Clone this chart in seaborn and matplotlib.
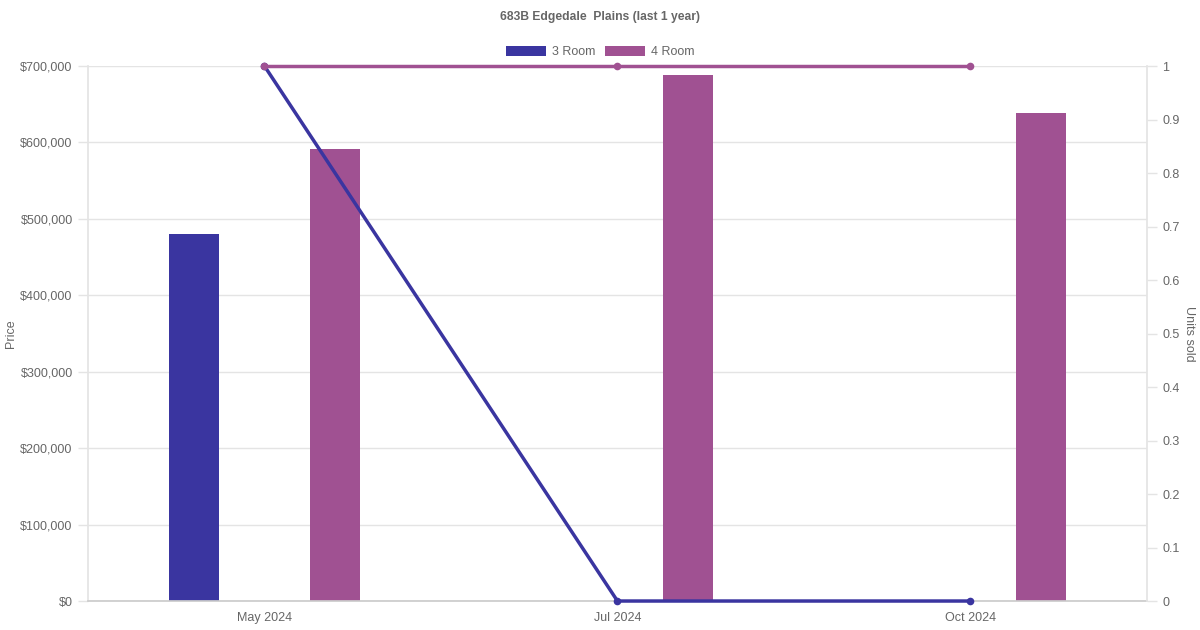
import numpy as np
import pandas as pd
import matplotlib
matplotlib.use("Agg")
import matplotlib.pyplot as plt
import seaborn as sns
from matplotlib.patches import Patch
from matplotlib.ticker import FuncFormatter, MultipleLocator

# data
months = ["May 2024", "Jul 2024", "Oct 2024"]
room_types = ["3 Room", "4 Room"]
price_3room = [480000, np.nan, np.nan]
price_4room = [592000, 688000, 638000]
units_3room = [1, 0, 0]
units_4room = [1, 1, 1]

colors = {"3 Room": "#3a35a0", "4 Room": "#a05192"}
text_grey = "#666666"
grid_grey = "#e4e4e4"

sns.set_theme(style="white")
plt.rcParams["font.family"] = ["Liberation Sans", "DejaVu Sans"]

prices = pd.DataFrame({
    "month": months * 2,
    "room": ["3 Room"] * 3 + ["4 Room"] * 3,
    "price": price_3room + price_4room,
})
units = pd.DataFrame({
    "month": months * 2,
    "room": ["3 Room"] * 3 + ["4 Room"] * 3,
    "units": units_3room + units_4room,
})

fig = plt.figure(figsize=(12, 6.3), dpi=100)
ax = fig.add_axes([0.0733, 0.046, 0.8825, 0.8492])

sns.barplot(data=prices, x="month", y="price", hue="room", order=months,
            hue_order=room_types, palette=colors, width=0.8, ax=ax,
            legend=False, saturation=1, linewidth=0)

# chart.js style narrow bars, same centres
bar_w = 50 / 353
for p in ax.patches:
    c = p.get_x() + p.get_width() / 2
    p.set_width(bar_w)
    p.set_x(c - bar_w / 2)

ax.set_xlim(-0.5, 2.5)
ax.set_ylim(0, 700000)
ax.yaxis.set_major_locator(MultipleLocator(100000))
ax.yaxis.set_major_formatter(FuncFormatter(lambda v, _: f"${v:,.0f}"))
ax.grid(axis="y", color=grid_grey, linewidth=1)
ax.set_axisbelow(True)
ax.set_xlabel("")
ax.set_ylabel("Price", color=text_grey, fontsize=9, va="center")
ax.yaxis.set_label_coords(-0.0727, 0.5)
ax.tick_params(axis="y", colors=text_grey, labelsize=9, length=7, width=1,
               color=grid_grey, pad=4, left=True)
ax.tick_params(axis="x", colors=text_grey, labelsize=9, length=0, pad=8)
for side in ["top", "right"]:
    ax.spines[side].set_visible(False)
ax.spines["left"].set_color(grid_grey)
ax.spines["bottom"].set_color("#cccccc")

ax2 = ax.twinx()
for room in room_types:
    sub = units[units["room"] == room]
    sns.lineplot(x=np.arange(len(months)), y=sub["units"].to_numpy(), ax=ax2,
                 color=colors[room], linewidth=2.5, marker="o", markersize=5.5,
                 markeredgewidth=0)
ax2.set_xlim(-0.5, 2.5)
ax2.set_ylim(0, 1)
ax2.yaxis.set_major_locator(MultipleLocator(0.1))
ax2.yaxis.set_major_formatter(FuncFormatter(lambda v, _: f"{v:g}"))
ax2.set_ylabel("Units sold", color=text_grey, fontsize=9, rotation=270,
               va="center")
ax2.yaxis.set_label_coords(1.0397, 0.5)
ax2.tick_params(axis="y", colors=text_grey, labelsize=9, length=7, width=1,
                color=grid_grey, pad=4, right=True)
for side in ["top", "left", "bottom"]:
    ax2.spines[side].set_visible(False)
ax2.spines["right"].set_color(grid_grey)
ax2.grid(False)
for line in ax2.lines:
    line.set_clip_on(False)

fig.text(0.5, 1 - 17 / 630, "683B Edgedale  Plains (last 1 year)",
         ha="center", va="center", fontsize=8.7, fontweight="bold",
         color=text_grey)

handles = [Patch(facecolor=colors[r], edgecolor="none", label=r)
           for r in room_types]
fig.legend(handles=handles, loc="center", bbox_to_anchor=(0.5, 1 - 52 / 630),
           ncol=2, frameon=False, fontsize=9, handlelength=3.2,
           handleheight=0.95, handletextpad=0.48, columnspacing=0.8,
           labelcolor=text_grey)

fig.savefig("out.png", dpi=100)
